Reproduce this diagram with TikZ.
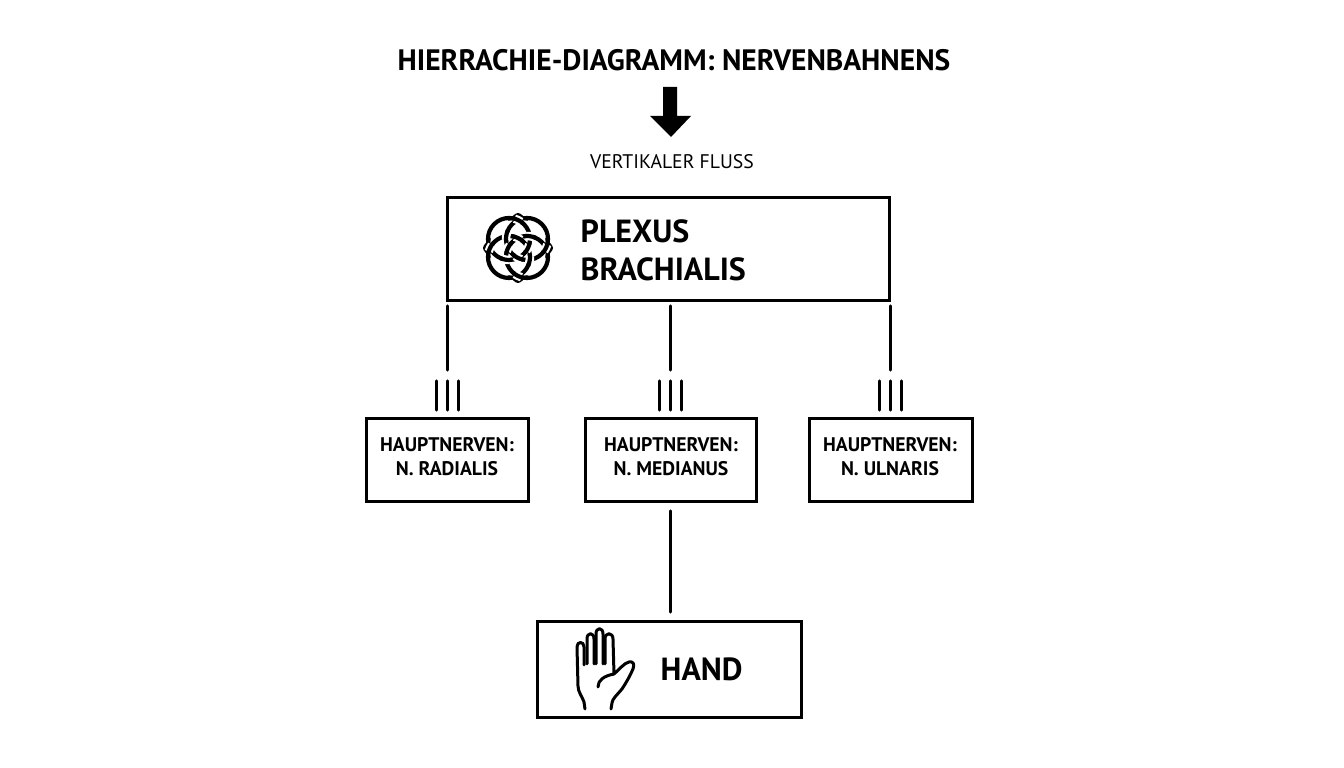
\documentclass[tikz,border=0pt]{standalone}
\usepackage{fontspec}
\setmainfont{PT Sans}
\usetikzlibrary{positioning}
\tikzset{
	box/.style = {draw=black, line width=0.03cm, align=center, inner sep=0pt},
	nerve/.style = {box, minimum width=1.62cm, minimum height=0.83cm},
	nervelabel/.style = {align=center, inner sep=0pt, font=\bfseries\fontsize{5.6}{6.9}\selectfont},
	conn/.style = {line width=0.032cm, line cap=round},
	knot/.style = {line width=0.042cm},
	halo/.style = {white, line width=0.085cm},
	skin/.style = {line width=0.03cm, line cap=round, line join=round}
}
\begin{document}
\begin{tikzpicture}[x=0.01cm,y=-0.01cm]
	\useasboundingbox (0,0) rectangle (1344,768);
	\node (title) at (674,60) {\bfseries\fontsize{8.4}{10}\selectfont HIERRACHIE-DIAGRAMM: NERVENBAHNENS};
	\node (flowlabel) at (672,162) {\fontsize{5.6}{7}\selectfont VERTIKALER FLUSS};
	\fill (663,87) -- (677,87) -- (677,116) -- (691,116) -- (671,137) -- (650,116) -- (663,116) -- cycle;
	% boxes
	\node[box, minimum width=4.41cm, minimum height=1.02cm] (plexus) at (668.5,249) {};
	\node[nerve] (radialis) at (447.5,460) {};
	\node[nerve, minimum width=1.70cm] (medianus) at (671,460) {};
	\node[nerve] (ulnaris) at (891,460) {};
	\node[box, minimum width=2.63cm, minimum height=0.96cm] (hand) at (669.5,669.5) {};
	\node[nervelabel] (radialislabel) at (447,457) {HAUPTNERVEN:\\N. RADIALIS};
	\node[nervelabel] (medianuslabel) at (671,457) {HAUPTNERVEN:\\N. MEDIANUS};
	\node[nervelabel] (ulnarislabel) at (890,457) {HAUPTNERVEN:\\N. ULNARIS};
	\node[anchor=west, align=left, inner sep=0pt, font=\bfseries\fontsize{9.1}{10.8}\selectfont] (plexuslabel) at (580,250) {PLEXUS\\BRACHIALIS};
	\node[anchor=west, inner sep=0pt, font=\bfseries\fontsize{9.1}{10}\selectfont] (handlabel) at (660,669) {HAND};
	% connectors
	\coordinate (rtop) at (447.5,306);
	\coordinate (rend) at (447.5,370);
	\coordinate (mtop) at (670.5,306);
	\coordinate (mend) at (670.5,370);
	\coordinate (utop) at (890.5,306);
	\coordinate (uend) at (890.5,370);
	\draw[conn] (rtop) -- (rend);
	\draw[conn] (mtop) -- (mend);
	\draw[conn] (utop) -- (uend);
	\foreach \n in {r,m,u}
	\foreach \d in {-11,0,11}
	\draw[conn] ([xshift=\d*0.01cm,yshift=-0.11cm]\n end) -- ([xshift=\d*0.01cm,yshift=-0.40cm]\n end);
	\coordinate (htop) at (670.5,511);
	\coordinate (hend) at (670.5,612);
	\draw[conn] (htop) -- (hend);
	% knot icon
	\begin{scope}[shift={(518,248)}]
		\foreach \a in {0,90,180,270}
		\fill[rotate=\a] (-10,-27) .. controls (-6,-31) and (-3,-35) .. (0,-35) .. controls (3,-35) and (6,-31) .. (10,-27) .. controls (4,-29) and (-4,-29) .. (-10,-27) -- cycle;
		\foreach \a in {0,90,180,270}
		\draw[knot,rotate=\a] (-9,-9) circle[radius=21];
		% over-strands of the weave
		\foreach \a in {0,90,180,270}
		\foreach \t in {-64.7,25.3,97.7} {
			\draw[halo,rotate=\a,shift={(-9,-9)}] (\t-10:21) arc[start angle=\t-10,delta angle=20,radius=21];
			\draw[knot,rotate=\a,shift={(-9,-9)}] (\t-16:21) arc[start angle=\t-16,delta angle=32,radius=21];
		}
	\end{scope}
	% hand icon
	\draw[skin] (585,709) -- (584,702) .. controls (582,696) and (578,692) .. (578,686) -- (577,647) .. controls (577,641) and (584,641) .. (584,647) -- (584,665);
	\draw[skin] (587,664) -- (587,639) .. controls (587,632) and (594,632) .. (594,639) -- (594,664);
	\draw[skin] (596,664) -- (596,634) .. controls (596,627) and (603,627) .. (603,634) -- (603,664);
	\draw[skin] (605,664) -- (605,639) .. controls (605,632) and (613,632) .. (613,639) -- (614,674) .. controls (619,670) and (624,663) .. (629,662) .. controls (633,661) and (635,664) .. (633,669) .. controls (630,676) and (626,683) .. (622,689) .. controls (618,694) and (612,699) .. (612,703) -- (611,709);
	\draw[skin] (598,687) .. controls (598,680) and (604,676) .. (614,674);
\end{tikzpicture}
\end{document}
